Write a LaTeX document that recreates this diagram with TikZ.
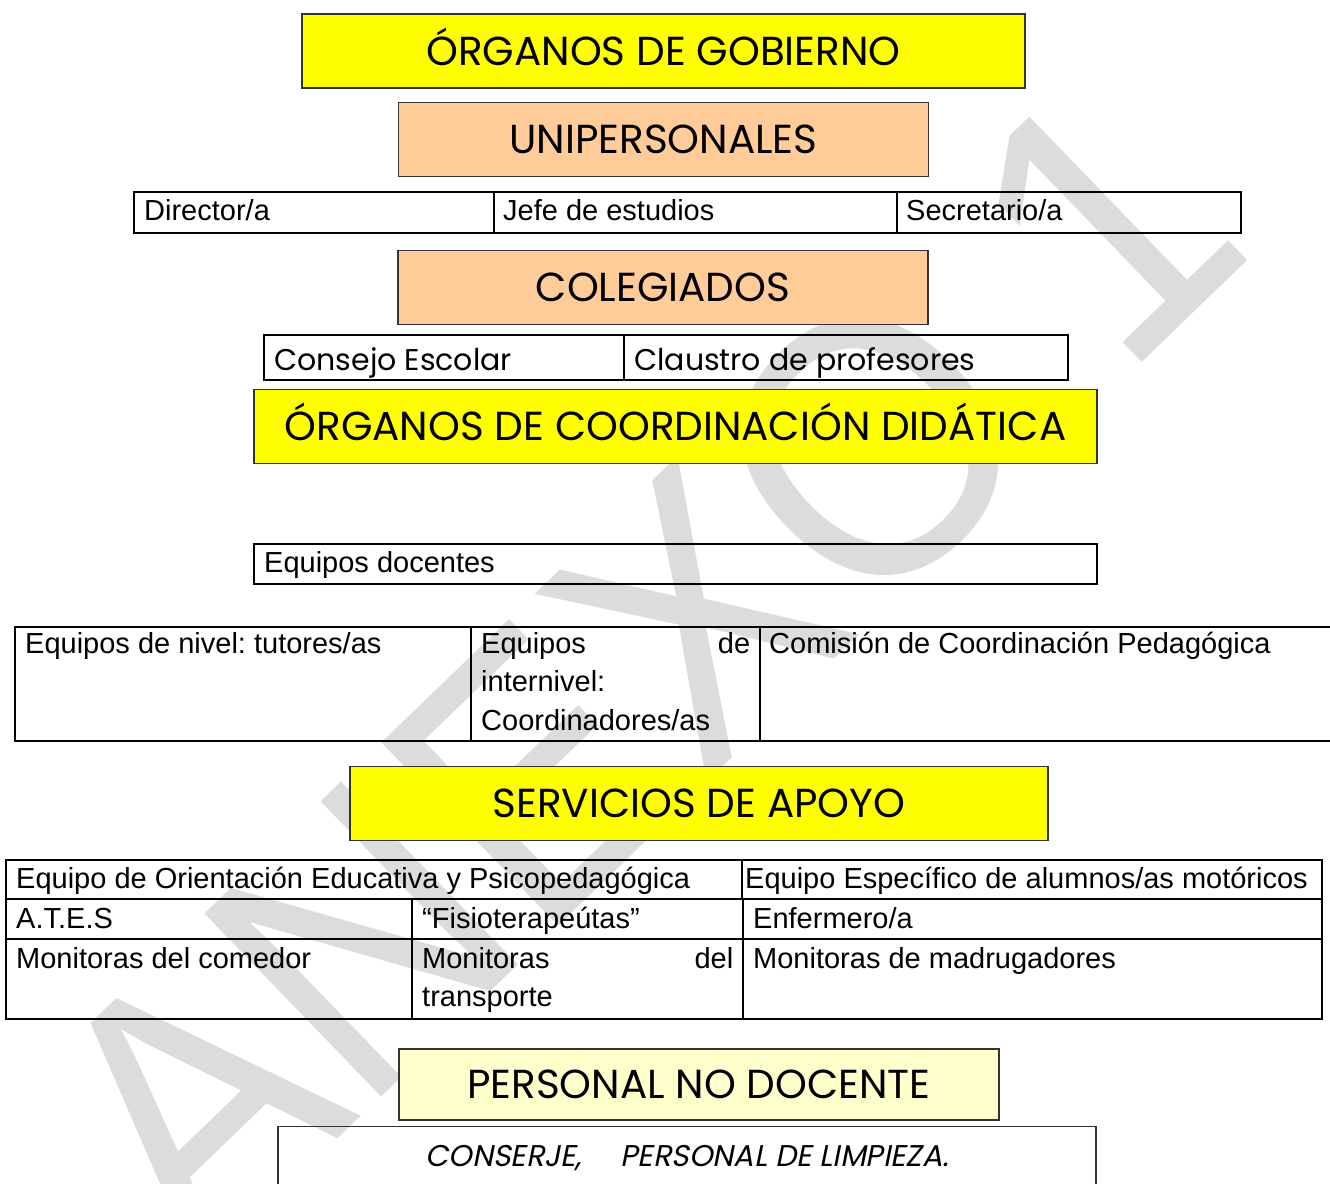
\documentclass[tikz,border=0pt]{standalone}
\usepackage{fontspec}
\setmainfont{Liberation Sans}
\newfontfamily\comic{Poppins}
\newfontfamily\comicslant[FakeSlant=0.2]{Poppins}
\usetikzlibrary{positioning}
\definecolor{titleyellow}{HTML}{FFFF00}
\definecolor{peach}{HTML}{FFCC99}
\definecolor{paleyellow}{HTML}{FFFFCC}
\definecolor{markgray}{HTML}{DCDCDC}
\frenchspacing

\begin{document}
\begin{tikzpicture}[x=1pt, y=-1pt,
    every node/.style={inner sep=0pt},
    titlebox/.style={rectangle, draw=black!80, line width=1.5pt, fill=titleyellow,
                     minimum height=74pt, text height=28pt, text depth=0pt,
                     font=\comic\fontsize{40.5}{42}\selectfont},
    groupbox/.style={titlebox, fill=peach},
    staffbox/.style={titlebox, fill=paleyellow, minimum height=71pt},
    grid/.style={draw=black, line width=2pt},
    celltext/.style={anchor=base west, align=left, font=\fontsize{29}{38.7}\selectfont},
    comictext/.style={anchor=base west, font=\comic\fontsize{30}{32}\selectfont},
    watermark/.style={anchor=base west, rotate=44, xscale=0.92, text=markgray,
                      font=\fontsize{370}{370}\selectfont},
]
\useasboundingbox (0,0) rectangle (1330,1183);
\clip (0,0) rectangle (1330,1183);

\node[watermark] (anexo) at (198,1274) {ANEXO 1};

\node[titlebox, minimum width=723pt] (gob) at (663.5,51) {ÓRGANOS DE GOBIERNO};
\node[groupbox, minimum width=530pt, below=13pt of gob] (unip) {UNIPERSONALES};

\draw[grid] (134,192) rectangle (1241,233) (494,192) -- (494,233) (897,192) -- (897,233);
\node[celltext] (dir)  at (144,220) {Director/a};
\node[celltext] (jefe) at (503,220) {Jefe de estudios};
\node[celltext] (secr) at (906,220) {Secretario/a};

\node[groupbox, minimum width=530pt] (coleg) at (663,287.5) {COLEGIADOS};

\draw[grid] (264,335) rectangle (1068,380) (624,335) -- (624,380);
\node[comictext] (consejo)  at (274,370) {Consejo Escolar};
\node[comictext] (claustro) at (634,370) {Claustro de profesores};

\node[titlebox, minimum width=843pt] (coord) at (675.5,426.5) {ÓRGANOS DE COORDINACIÓN DIDÁTICA};

\draw[grid] (254,544) rectangle (1097,584);
\node[celltext] (docentes) at (264,572) {Equipos docentes};

\draw[grid] (1340,627) -- (15,627) -- (15,741) -- (1340,741)
            (471,627) -- (471,741) (760,627) -- (760,741);
\node[celltext] (nivel) at (25,653) {Equipos de nivel: tutores/as};
\node[celltext, text width=269pt] (internivel) at (481,653) {Equipos \hfill de\\internivel:\\Coordinadores/as};
\node[celltext] (ccp) at (769,653) {Comisión de Coordinación Pedagógica};

\node[titlebox, minimum width=698pt] (apoyo) at (699,803.5) {SERVICIOS DE APOYO};

\draw[grid] (6,860) rectangle (1322,1019) (6,899) -- (1322,899) (6,939) -- (1322,939)
            (742,860) -- (742,899) (412,899) -- (412,1019) (743,899) -- (743,1019);
\node[celltext] (eoep)    at (16,888)  {Equipo de Orientación Educativa y Psicopedagógica};
\node[celltext] (eeam)    at (745,888) {Equipo Específico de alumnos/as motóricos};
\node[celltext] (ates)    at (16,928)  {A.T.E.S};
\node[celltext] (fisio)   at (422,928) {“Fisioterapeútas”};
\node[celltext] (enfer)   at (753,928) {Enfermero/a};
\node[celltext] (comedor) at (16,968)  {Monitoras del comedor};
\node[celltext, text width=311pt] (transp) at (422,968) {Monitoras \hfill del\\transporte};
\node[celltext] (madrug)  at (753,968) {Monitoras de madrugadores};

\node[staffbox, minimum width=600pt] (nodoc) at (699,1084.5) {PERSONAL NO DOCENTE};

\node[draw=black!80, line width=1.2pt, anchor=north, minimum width=818pt, minimum height=62pt,
      font=\comicslant\fontsize{30}{32}\selectfont] (conserje) at (687,1126)
      {CONSERJE,\hspace{31pt} PERSONAL DE LIMPIEZA.};

\end{tikzpicture}
\end{document}
